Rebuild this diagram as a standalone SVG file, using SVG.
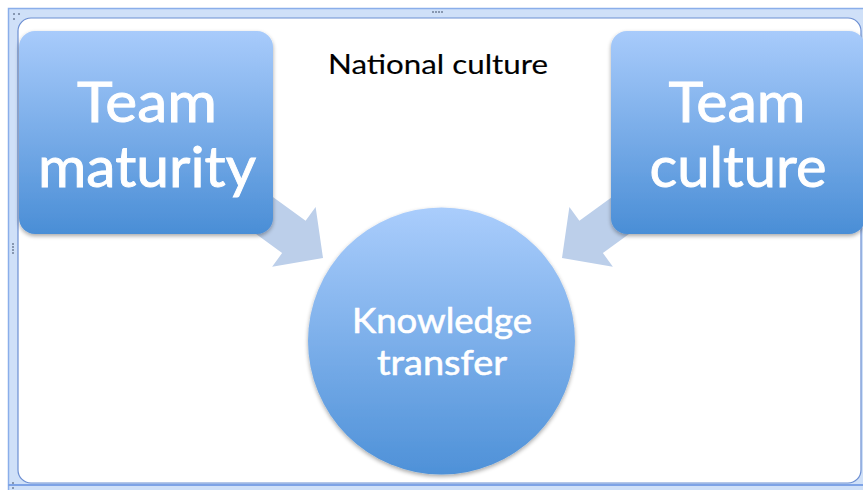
<svg xmlns="http://www.w3.org/2000/svg" width="863" height="490" viewBox="0 0 863 490">
  <defs>
    <linearGradient id="gBox" x1="0" y1="0" x2="0" y2="1">
      <stop offset="0" stop-color="#a8cbfb"/>
      <stop offset="1" stop-color="#4a8ed6"/>
    </linearGradient>
    <linearGradient id="gCirc" x1="0" y1="0" x2="0" y2="1">
      <stop offset="0" stop-color="#aacdfc"/>
      <stop offset="1" stop-color="#4e91d8"/>
    </linearGradient>
    <filter id="sh" x="-10%" y="-10%" width="120%" height="125%">
      <feGaussianBlur in="SourceAlpha" stdDeviation="2"/>
      <feOffset dx="0" dy="2" result="b"/>
      <feComponentTransfer><feFuncA type="linear" slope="0.35"/></feComponentTransfer>
      <feMerge><feMergeNode/><feMergeNode in="SourceGraphic"/></feMerge>
    </filter>
    <path id="arrowShape" d="M0,0 L-36,-37 L-36,-20 L-130,-20 L-130,20 L-36,20 L-36,37 Z"/>
  </defs>
  <style>
    .big { font-family: Lato, "Open Sans", "Liberation Sans", sans-serif; font-size: 56px; fill: #ffffff; stroke: #ffffff; stroke-width: 0.9; text-anchor: middle; }
    .mid { font-family: Lato, "Open Sans", "Liberation Sans", sans-serif; font-size: 35px; fill: #ffffff; stroke: #ffffff; stroke-width: 0.6; text-anchor: middle; }
    .title { font-family: Lato, "Open Sans", "Liberation Sans", sans-serif; font-size: 27px; fill: #000000; stroke: #000000; stroke-width: 0.15; text-anchor: middle; }
    .arrow { fill: #bccfea; }
    .dot { fill: #6f7f99; }
  </style>

  <!-- frame -->
  <g id="frame">
    <rect x="8.5" y="8.5" width="860" height="486" fill="#cfe0f8" stroke="#8aaeea" stroke-width="1.5"/>
    <rect x="18" y="18" width="843" height="465" rx="13" fill="#ffffff" stroke="#6d8fd2" stroke-width="1.2"/>
    <line x1="8" y1="485" x2="863" y2="485" stroke="#7ea3e6" stroke-width="2"/>
    <g class="dot">
      <circle cx="433" cy="12" r="1"/><circle cx="436" cy="12" r="1"/><circle cx="439" cy="12" r="1"/><circle cx="442" cy="12" r="1"/>
      <circle cx="13" cy="244" r="1"/><circle cx="13" cy="247" r="1"/><circle cx="13" cy="250" r="1"/><circle cx="13" cy="253" r="1"/>
      <circle cx="14" cy="14" r="1"/><circle cx="19" cy="14" r="1"/><circle cx="14" cy="19" r="1"/>
      <circle cx="13" cy="483" r="1"/><circle cx="13" cy="488" r="1"/>
    </g>
  </g>

  <!-- connectors -->
  <g id="connectors">
    <use href="#arrowShape" class="arrow" transform="translate(323,258) rotate(36)"/>
    <use href="#arrowShape" class="arrow" transform="translate(562,258) scale(-1,1) rotate(36)"/>
  </g>

  <g id="title">
    <text class="title" x="438" y="74" textLength="220" lengthAdjust="spacingAndGlyphs">National culture</text>
  </g>

  <g id="team-maturity">
    <rect x="19" y="31" width="254" height="203" rx="16" fill="url(#gBox)" filter="url(#sh)"/>
    <text class="big" x="147" y="122" textLength="140" lengthAdjust="spacingAndGlyphs">Team</text>
    <text class="big" x="147" y="187" textLength="218" lengthAdjust="spacingAndGlyphs">maturity</text>
  </g>

  <g id="team-culture">
    <rect x="611" y="31" width="254" height="203" rx="16" fill="url(#gBox)" filter="url(#sh)"/>
    <text class="big" x="737" y="122" textLength="137" lengthAdjust="spacingAndGlyphs">Team</text>
    <text class="big" x="738" y="187" textLength="177" lengthAdjust="spacingAndGlyphs">culture</text>
  </g>

  <g id="knowledge-transfer">
    <circle cx="441.5" cy="341" r="133.5" fill="url(#gCirc)" filter="url(#sh)"/>
    <text class="mid" x="442" y="333" textLength="180" lengthAdjust="spacingAndGlyphs">Knowledge</text>
    <text class="mid" x="442" y="375" textLength="130" lengthAdjust="spacingAndGlyphs">transfer</text>
  </g>
</svg>
